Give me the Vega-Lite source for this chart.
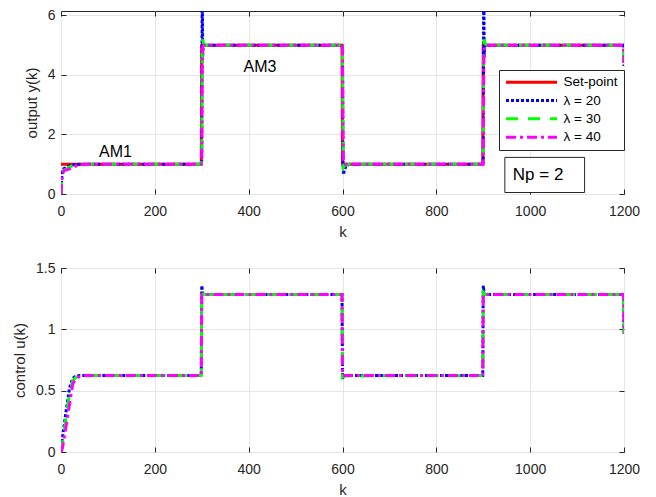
{
  "$schema": "https://vega.github.io/schema/vega-lite/v6.json",
  "padding": {"left": 12, "top": 7, "right": 5, "bottom": 3},
  "background": "white",
  "spacing": 20,
  "config": {
    "font": "Liberation Sans",
    "view": {"stroke": "#262626", "strokeWidth": 1},
    "axis": {
      "labelFont": "Liberation Sans",
      "titleFont": "Liberation Sans",
      "labelFontSize": 14,
      "titleFontSize": 15,
      "titleFontWeight": "normal",
      "labelColor": "#262626",
      "titleColor": "#262626",
      "labelFlush": false,
      "domain": false,
      "tickColor": "#262626",
      "tickSize": -5,
      "gridColor": "#e6e6e6",
      "gridWidth": 1
    },
    "axisX": {"labelPadding": 15, "titlePadding": 6, "format": "d"},
    "axisY": {"labelPadding": 11, "titlePadding": 8}
  },
  "datasets": {
    "out": [
      {"s": "Set-point", "k": 0, "v": 1}, {"s": "Set-point", "k": 299, "v": 1}, {"s": "Set-point", "k": 300, "v": 5}, {"s": "Set-point", "k": 599, "v": 5}, {"s": "Set-point", "k": 600, "v": 1}, {"s": "Set-point", "k": 899, "v": 1}, {"s": "Set-point", "k": 900, "v": 5}, {"s": "Set-point", "k": 1200, "v": 5},
      {"s": "λ = 20", "k": 0, "v": 0}, {"s": "λ = 20", "k": 1, "v": 0.45}, {"s": "λ = 20", "k": 3, "v": 0.75}, {"s": "λ = 20", "k": 6, "v": 0.85}, {"s": "λ = 20", "k": 10, "v": 0.88}, {"s": "λ = 20", "k": 20, "v": 0.96}, {"s": "λ = 20", "k": 30, "v": 0.99}, {"s": "λ = 20", "k": 40, "v": 1}, {"s": "λ = 20", "k": 299, "v": 1}, {"s": "λ = 20", "k": 300, "v": 1.1}, {"s": "λ = 20", "k": 301, "v": 7.5}, {"s": "λ = 20", "k": 302, "v": 4.6}, {"s": "λ = 20", "k": 303, "v": 5}, {"s": "λ = 20", "k": 599, "v": 5}, {"s": "λ = 20", "k": 600, "v": 4.8}, {"s": "λ = 20", "k": 601, "v": 1.2}, {"s": "λ = 20", "k": 602, "v": 0.65}, {"s": "λ = 20", "k": 604, "v": 0.8}, {"s": "λ = 20", "k": 608, "v": 0.95}, {"s": "λ = 20", "k": 615, "v": 1}, {"s": "λ = 20", "k": 899, "v": 1}, {"s": "λ = 20", "k": 900, "v": 1.1}, {"s": "λ = 20", "k": 901, "v": 7.5}, {"s": "λ = 20", "k": 902, "v": 4.6}, {"s": "λ = 20", "k": 903, "v": 5}, {"s": "λ = 20", "k": 1199, "v": 5}, {"s": "λ = 20", "k": 1200, "v": 4.3},
      {"s": "λ = 30", "k": 0, "v": 0}, {"s": "λ = 30", "k": 1, "v": 0.35}, {"s": "λ = 30", "k": 3, "v": 0.7}, {"s": "λ = 30", "k": 6, "v": 0.8}, {"s": "λ = 30", "k": 10, "v": 0.83}, {"s": "λ = 30", "k": 20, "v": 0.92}, {"s": "λ = 30", "k": 30, "v": 0.98}, {"s": "λ = 30", "k": 40, "v": 1}, {"s": "λ = 30", "k": 299, "v": 1}, {"s": "λ = 30", "k": 300, "v": 1.1}, {"s": "λ = 30", "k": 301, "v": 4.6}, {"s": "λ = 30", "k": 302, "v": 5.2}, {"s": "λ = 30", "k": 304, "v": 5.05}, {"s": "λ = 30", "k": 308, "v": 5}, {"s": "λ = 30", "k": 599, "v": 5}, {"s": "λ = 30", "k": 600, "v": 4.9}, {"s": "λ = 30", "k": 601, "v": 2}, {"s": "λ = 30", "k": 602, "v": 0.9}, {"s": "λ = 30", "k": 604, "v": 0.95}, {"s": "λ = 30", "k": 610, "v": 1}, {"s": "λ = 30", "k": 899, "v": 1}, {"s": "λ = 30", "k": 900, "v": 1.1}, {"s": "λ = 30", "k": 901, "v": 4.6}, {"s": "λ = 30", "k": 902, "v": 5.2}, {"s": "λ = 30", "k": 904, "v": 5.05}, {"s": "λ = 30", "k": 908, "v": 5}, {"s": "λ = 30", "k": 1199, "v": 5}, {"s": "λ = 30", "k": 1200, "v": 4.4},
      {"s": "λ = 40", "k": 0, "v": 0}, {"s": "λ = 40", "k": 1, "v": 0.3}, {"s": "λ = 40", "k": 3, "v": 0.65}, {"s": "λ = 40", "k": 6, "v": 0.78}, {"s": "λ = 40", "k": 10, "v": 0.8}, {"s": "λ = 40", "k": 20, "v": 0.85}, {"s": "λ = 40", "k": 30, "v": 0.93}, {"s": "λ = 40", "k": 40, "v": 0.98}, {"s": "λ = 40", "k": 55, "v": 1}, {"s": "λ = 40", "k": 299, "v": 1}, {"s": "λ = 40", "k": 300, "v": 1.1}, {"s": "λ = 40", "k": 301, "v": 4.2}, {"s": "λ = 40", "k": 302, "v": 4.95}, {"s": "λ = 40", "k": 305, "v": 5}, {"s": "λ = 40", "k": 599, "v": 5}, {"s": "λ = 40", "k": 600, "v": 4.9}, {"s": "λ = 40", "k": 601, "v": 2.2}, {"s": "λ = 40", "k": 602, "v": 1.05}, {"s": "λ = 40", "k": 605, "v": 1}, {"s": "λ = 40", "k": 899, "v": 1}, {"s": "λ = 40", "k": 900, "v": 1.1}, {"s": "λ = 40", "k": 901, "v": 4.2}, {"s": "λ = 40", "k": 902, "v": 4.95}, {"s": "λ = 40", "k": 905, "v": 5}, {"s": "λ = 40", "k": 1199, "v": 5}, {"s": "λ = 40", "k": 1200, "v": 4.4}
    ],
    "ctrl": [
      {"s": "λ = 20", "k": 0, "v": 0}, {"s": "λ = 20", "k": 3, "v": 0.11}, {"s": "λ = 20", "k": 10, "v": 0.31}, {"s": "λ = 20", "k": 18, "v": 0.52}, {"s": "λ = 20", "k": 25, "v": 0.6}, {"s": "λ = 20", "k": 30, "v": 0.615}, {"s": "λ = 20", "k": 40, "v": 0.623}, {"s": "λ = 20", "k": 299, "v": 0.623}, {"s": "λ = 20", "k": 300, "v": 1.356}, {"s": "λ = 20", "k": 302, "v": 1.29}, {"s": "λ = 20", "k": 305, "v": 1.283}, {"s": "λ = 20", "k": 599, "v": 1.283}, {"s": "λ = 20", "k": 600, "v": 0.597}, {"s": "λ = 20", "k": 602, "v": 0.615}, {"s": "λ = 20", "k": 606, "v": 0.623}, {"s": "λ = 20", "k": 899, "v": 0.623}, {"s": "λ = 20", "k": 900, "v": 1.356}, {"s": "λ = 20", "k": 902, "v": 1.29}, {"s": "λ = 20", "k": 905, "v": 1.283}, {"s": "λ = 20", "k": 1199, "v": 1.283}, {"s": "λ = 20", "k": 1200, "v": 0.96},
      {"s": "λ = 30", "k": 0, "v": 0}, {"s": "λ = 30", "k": 3, "v": 0.07}, {"s": "λ = 30", "k": 10, "v": 0.26}, {"s": "λ = 30", "k": 18, "v": 0.47}, {"s": "λ = 30", "k": 25, "v": 0.58}, {"s": "λ = 30", "k": 32, "v": 0.61}, {"s": "λ = 30", "k": 45, "v": 0.623}, {"s": "λ = 30", "k": 299, "v": 0.623}, {"s": "λ = 30", "k": 300, "v": 1.3}, {"s": "λ = 30", "k": 303, "v": 1.285}, {"s": "λ = 30", "k": 599, "v": 1.283}, {"s": "λ = 30", "k": 600, "v": 0.61}, {"s": "λ = 30", "k": 603, "v": 0.62}, {"s": "λ = 30", "k": 899, "v": 0.623}, {"s": "λ = 30", "k": 900, "v": 1.3}, {"s": "λ = 30", "k": 903, "v": 1.285}, {"s": "λ = 30", "k": 1199, "v": 1.283}, {"s": "λ = 30", "k": 1200, "v": 0.963},
      {"s": "λ = 40", "k": 0, "v": 0}, {"s": "λ = 40", "k": 3, "v": 0.03}, {"s": "λ = 40", "k": 10, "v": 0.19}, {"s": "λ = 40", "k": 17, "v": 0.36}, {"s": "λ = 40", "k": 25, "v": 0.555}, {"s": "λ = 40", "k": 32, "v": 0.6}, {"s": "λ = 40", "k": 40, "v": 0.615}, {"s": "λ = 40", "k": 50, "v": 0.623}, {"s": "λ = 40", "k": 299, "v": 0.623}, {"s": "λ = 40", "k": 300, "v": 1.283}, {"s": "λ = 40", "k": 599, "v": 1.283}, {"s": "λ = 40", "k": 600, "v": 0.623}, {"s": "λ = 40", "k": 899, "v": 0.623}, {"s": "λ = 40", "k": 900, "v": 1.283}, {"s": "λ = 40", "k": 1199, "v": 1.283}, {"s": "λ = 40", "k": 1200, "v": 0.963}
    ],
    "labels": [
      {"t": "AM1", "k": 116, "v": 1.23},
      {"t": "AM3", "k": 424, "v": 4.11}
    ],
    "box": [
      {"t": "Np = 2", "k0": 946, "k1": 1116, "v0": 0.05, "v1": 1.23, "tk": 963, "tv": 0.48}
    ]
  },
  "resolve": {"scale": {"color": "independent", "strokeDash": "independent"}},
  "vconcat": [
    {
      "width": 563,
      "height": 183,
      "resolve": {"axis": {"x": "independent", "y": "independent"}},
      "layer": [
        {
          "data": {"name": "out"},
          "mark": {"type": "line", "strokeWidth": 3, "clip": true, "strokeCap": "butt"},
          "encoding": {
            "x": {"field": "k", "type": "quantitative", "scale": {"domain": [0, 1200], "nice": false},
                  "axis": {"orient": "bottom", "title": "k", "values": [0, 200, 400, 600, 800, 1000, 1200], "grid": true}},
            "y": {"field": "v", "type": "quantitative", "scale": {"domain": [0, 6.15], "nice": false, "zero": false},
                  "axis": {"orient": "left", "title": "output y(k)", "values": [0, 2, 4, 6], "grid": true}},
            "color": {"field": "s", "type": "nominal",
                      "scale": {"domain": ["Set-point", "λ = 20", "λ = 30", "λ = 40"], "range": ["#ff0000", "#0000ff", "#00ff00", "#ff00ff"]},
                      "legend": {"title": null, "orient": "none", "legendX": 438, "legendY": 59, "symbolType": "stroke", "symbolSize": 2601, "clipHeight": 13.5, "symbolStrokeWidth": 3, "labelFontSize": 13.5, "labelFont": "Liberation Sans", "labelColor": "#000000", "padding": 5.5, "rowPadding": 3.3, "labelOffset": 5, "strokeColor": "#262626", "fillColor": "white", "cornerRadius": 0}},
            "strokeDash": {"field": "s", "type": "nominal",
                           "scale": {"domain": ["Set-point", "λ = 20", "λ = 30", "λ = 40"], "range": [[1, 0], [3, 2], [12, 10], [10, 4, 3, 4]]},
                           "legend": {"title": null, "orient": "none", "legendX": 438, "legendY": 59, "symbolType": "stroke", "symbolSize": 2601, "clipHeight": 13.5, "symbolStrokeWidth": 3, "labelFontSize": 13.5, "labelFont": "Liberation Sans", "labelColor": "#000000", "padding": 5.5, "rowPadding": 3.3, "labelOffset": 5, "strokeColor": "#262626", "fillColor": "white", "cornerRadius": 0}}
          }
        },
        {
          "data": {"name": "labels"},
          "mark": {"type": "text", "fontSize": 16, "font": "Liberation Sans", "align": "center", "baseline": "alphabetic", "color": "#000000"},
          "encoding": {
            "x": {"field": "k", "type": "quantitative", "axis": {"orient": "top", "labels": false, "title": null, "values": [0, 200, 400, 600, 800, 1000, 1200], "grid": false}},
            "y": {"field": "v", "type": "quantitative", "axis": {"orient": "right", "labels": false, "title": null, "values": [0, 2, 4, 6], "grid": false}},
            "text": {"field": "t"}
          }
        },
        {
          "data": {"name": "box"},
          "mark": {"type": "rect", "fill": "white", "stroke": "#262626", "strokeWidth": 1},
          "encoding": {
            "x": {"field": "k0", "type": "quantitative", "axis": null},
            "x2": {"field": "k1"},
            "y": {"field": "v0", "type": "quantitative", "axis": null},
            "y2": {"field": "v1"}
          }
        },
        {
          "data": {"name": "box"},
          "mark": {"type": "text", "fontSize": 17, "font": "Liberation Sans", "align": "left", "baseline": "alphabetic", "color": "#000000"},
          "encoding": {
            "x": {"field": "tk", "type": "quantitative", "axis": null},
            "y": {"field": "tv", "type": "quantitative", "axis": null},
            "text": {"field": "t"}
          }
        }
      ]
    },
    {
      "width": 563,
      "height": 184,
      "resolve": {"axis": {"x": "independent", "y": "independent"}},
      "layer": [
        {
          "data": {"name": "ctrl"},
          "mark": {"type": "line", "strokeWidth": 3, "clip": true, "strokeCap": "butt"},
          "encoding": {
            "x": {"field": "k", "type": "quantitative", "scale": {"domain": [0, 1200], "nice": false},
                  "axis": {"orient": "bottom", "title": "k", "values": [0, 200, 400, 600, 800, 1000, 1200], "grid": true}},
            "y": {"field": "v", "type": "quantitative", "scale": {"domain": [0, 1.5], "nice": false},
                  "axis": {"orient": "left", "title": "control u(k)", "values": [0, 0.5, 1, 1.5], "labelExpr": "'' + datum.value", "grid": true}},
            "color": {"field": "s", "type": "nominal",
                      "scale": {"domain": ["λ = 20", "λ = 30", "λ = 40"], "range": ["#0000ff", "#00ff00", "#ff00ff"]},
                      "legend": null},
            "strokeDash": {"field": "s", "type": "nominal",
                           "scale": {"domain": ["λ = 20", "λ = 30", "λ = 40"], "range": [[3, 2], [12, 10], [10, 4, 3, 4]]},
                           "legend": null}
          }
        },
        {
          "data": {"name": "ctrl"},
          "mark": {"type": "point", "opacity": 0},
          "encoding": {
            "x": {"field": "k", "type": "quantitative", "axis": {"orient": "top", "labels": false, "title": null, "values": [0, 200, 400, 600, 800, 1000, 1200], "grid": false}},
            "y": {"field": "v", "type": "quantitative", "axis": {"orient": "right", "labels": false, "title": null, "values": [0, 0.5, 1, 1.5], "grid": false}}
          }
        }
      ]
    }
  ]
}
